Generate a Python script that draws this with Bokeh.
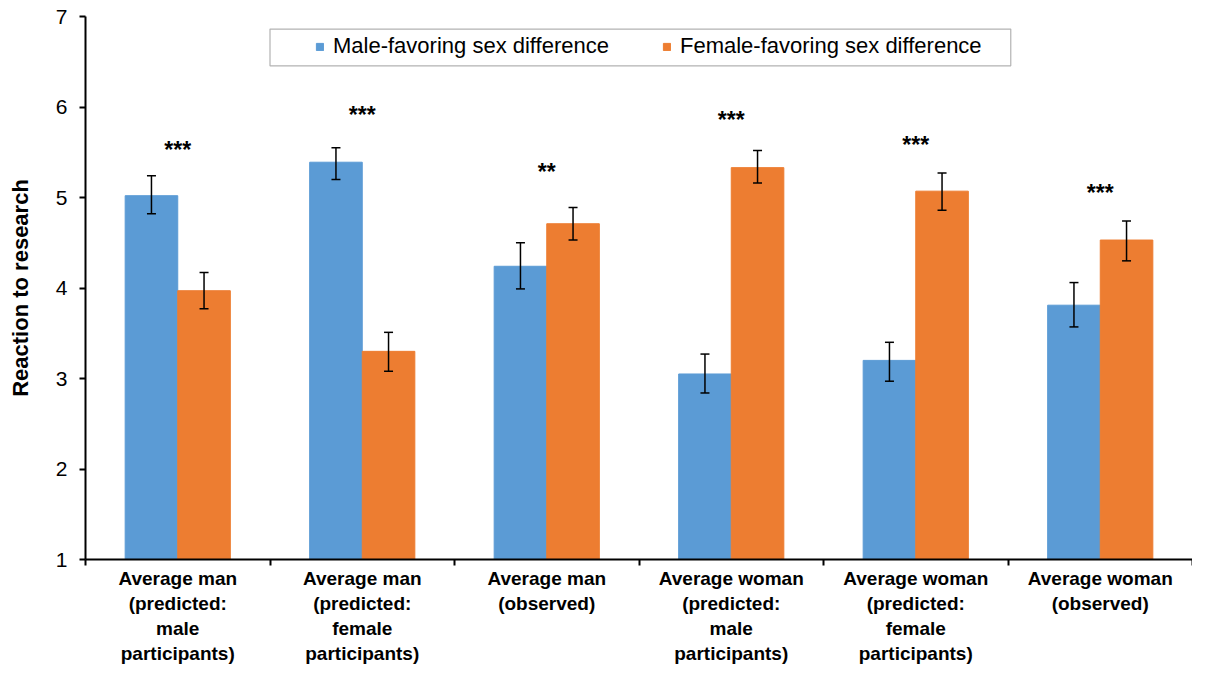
from bokeh.plotting import figure
from bokeh.models import ColumnDataSource, Whisker, TeeHead, FixedTicker, Range1d, BoxAnnotation, Legend, LegendItem
from bokeh.core.properties import value
from bokeh.embed import file_html
from bokeh.resources import INLINE

categories = [
    "Average man\n(predicted:\nmale\nparticipants)",
    "Average man\n(predicted:\nfemale\nparticipants)",
    "Average man\n(observed)",
    "Average woman\n(predicted:\nmale\nparticipants)",
    "Average woman\n(predicted:\nfemale\nparticipants)",
    "Average woman\n(observed)",
]
male_vals = [5.02, 5.39, 4.24, 3.05, 3.20, 3.81]
male_lo = [4.82, 5.20, 3.99, 2.84, 2.97, 3.57]
male_hi = [5.24, 5.55, 4.50, 3.27, 3.40, 4.06]
female_vals = [3.97, 3.30, 4.71, 5.33, 5.07, 4.53]
female_lo = [3.77, 3.08, 4.53, 5.16, 4.86, 4.30]
female_hi = [4.17, 3.51, 4.89, 5.52, 5.27, 4.74]
sig_labels = ["***", "***", "**", "***", "***", "***"]
sig_y = [5.585, 5.967, 5.334, 5.912, 5.640, 5.105]
y_ticks = [1, 2, 3, 4, 5, 6, 7]
series_names = ["Male-favoring sex difference", "Female-favoring sex difference"]

BLUE = "#5B9BD5"
ORANGE = "#ED7D31"
FONT = "Liberation Sans"
BW = 0.285

n = len(categories)
centers = [i + 0.5 for i in range(n)]

p = figure(width=1192, height=667, output_backend="svg", toolbar_location=None,
           x_range=Range1d(0, n), y_range=Range1d(1, 7))
p.min_border_left = 85
p.min_border_right = 0
p.min_border_top = 16
p.min_border_bottom = 100
p.outline_line_color = None
p.xgrid.visible = False
p.ygrid.visible = False

male_src = ColumnDataSource(dict(x=[c - BW / 2 for c in centers], top=male_vals, lo=male_lo, hi=male_hi))
fem_src = ColumnDataSource(dict(x=[c + BW / 2 for c in centers], top=female_vals, lo=female_lo, hi=female_hi))

r1 = p.vbar(x="x", top="top", bottom=1, width=BW, source=male_src, fill_color=BLUE, line_color=BLUE)
r2 = p.vbar(x="x", top="top", bottom=1, width=BW, source=fem_src, fill_color=ORANGE, line_color=ORANGE)

for src in (male_src, fem_src):
    w = Whisker(source=src, base="x", upper="hi", lower="lo", line_color="black", line_width=1.5,
                level="annotation",
                upper_head=TeeHead(size=9, line_width=1.5, line_color="black"),
                lower_head=TeeHead(size=9, line_width=1.5, line_color="black"))
    p.add_layout(w)

sig_src = ColumnDataSource(dict(x=centers, y=sig_y, t=sig_labels))
p.text(x="x", y="y", text="t", source=sig_src, text_align="center", text_baseline="alphabetic",
       y_offset=5, text_font=value(FONT), text_font_size="23px", text_font_style="bold", text_color="black")

# legend frame
p.add_layout(BoxAnnotation(left=1.0, right=5.015, bottom=6.455, top=6.861, fill_color="white", fill_alpha=1.0,
                           line_color="black", line_width=1.2, level="overlay"))
legend = Legend(items=[LegendItem(label=series_names[0], renderers=[r1]),
                       LegendItem(label=series_names[1], renderers=[r2])],
                orientation="horizontal", location=(230, 500), padding=0, margin=0,
                border_line_alpha=0, background_fill_alpha=0,
                glyph_width=9, glyph_height=9, label_standoff=9, spacing=53,
                label_text_font=FONT, label_text_font_size="22px", label_text_color="black",
                label_height=20)
p.add_layout(legend)

# y axis
ya = p.yaxis[0]
ya.ticker = FixedTicker(ticks=y_ticks)
ya.axis_label = "Reaction to research"
ya.axis_label_text_font = FONT
ya.axis_label_text_font_style = "bold"
ya.axis_label_text_font_size = "22px"
ya.axis_label_text_color = "black"
ya.axis_label_standoff = 20
ya.major_label_text_font = FONT
ya.major_label_text_font_size = "21px"
ya.major_label_text_color = "black"
ya.major_label_standoff = 12
ya.axis_line_width = 2
ya.major_tick_line_width = 2
ya.major_tick_out = 6
ya.major_tick_in = 0
ya.minor_tick_line_color = None

# x axis
xa = p.xaxis[0]
xa.ticker = FixedTicker(ticks=centers, minor_ticks=list(range(n + 1)))
xa.major_label_overrides = {c: lab for c, lab in zip(centers, categories)}
xa.major_label_text_font = FONT
xa.major_label_text_font_style = "bold"
xa.major_label_text_font_size = "19px"
xa.major_label_text_color = "black"
xa.major_label_standoff = 2
xa.axis_line_width = 2
xa.major_tick_out = 0
xa.major_tick_in = 0
xa.minor_tick_line_width = 2
xa.minor_tick_out = 6
xa.minor_tick_in = 0

open("out.html", "w").write(file_html(p, INLINE))
